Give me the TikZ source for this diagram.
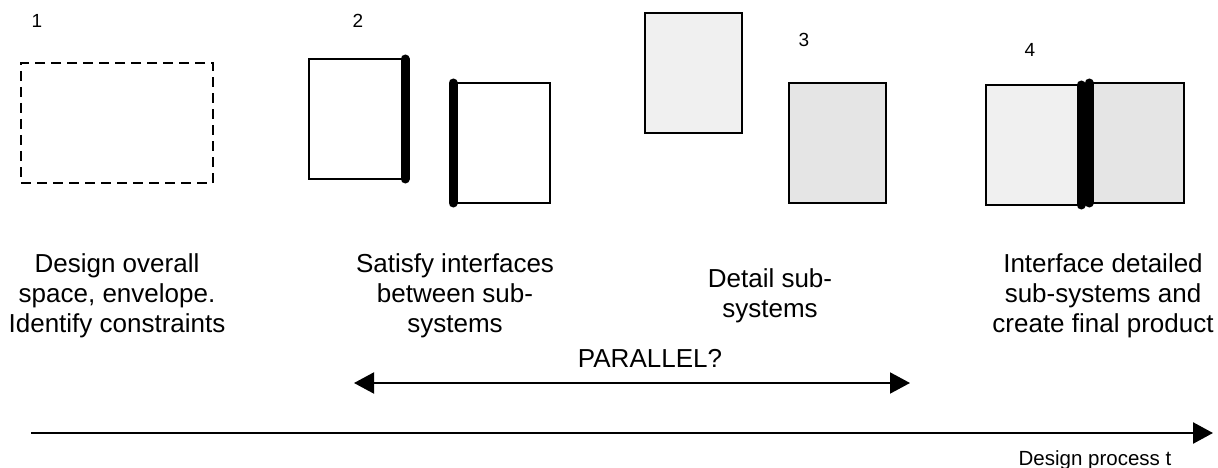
\documentclass[tikz,border=0pt]{standalone}
\usepackage{fontspec}
\setmainfont{Liberation Sans}
\usetikzlibrary{arrows.meta}
\tikzset{
	box/.style={draw, line width=2pt, inner sep=0pt, outer sep=0pt, minimum width=97pt, minimum height=120pt, anchor=north west},
	envelope/.style={box, dash pattern=on 10pt off 6pt, minimum width=192pt},
	palefill/.style={fill=black!6},
	midfill/.style={fill=black!10},
	iface/.style={line width=9pt, line cap=round},
	stagetext/.style={inner sep=0pt, font=\fontsize{26}{30}\selectfont, align=center, anchor=north},
	stagenum/.style={inner sep=0pt, font=\fontsize{19}{22}\selectfont, anchor=base},
	timeline/.style={line width=2pt, -{Triangle[length=20pt,width=21pt]}},
}
\begin{document}
\begin{tikzpicture}[x=1pt, y=-1pt]
		\useasboundingbox (0,0) rectangle (1218,468);
		\node[stagenum] (n1) at (37,28) {1};
		\node[stagenum] (n2) at (358,28) {2};
		\node[stagenum] (n3) at (804,47) {3};
		\node[stagenum] (n4) at (1030,57) {4};
		\node[envelope] (b1) at (21,63) {};
		\node[box, minimum width=96pt] (b2a) at (309,59) {};
		\node[box] (b2b) at (453,83) {};
		\node[box, palefill] (b3a) at (645,13) {};
		\node[box, midfill] (b3b) at (789,83) {};
		\node[box, palefill, minimum width=95pt] (b4a) at (986,85) {};
		\node[box, midfill, minimum width=95pt] (b4b) at (1089,83) {};
		\draw[iface] (b2a.north east) -- (b2a.south east);
		\draw[iface] (b2b.north west) -- (b2b.south west);
		\draw[iface] (b4a.north east) -- (b4a.south east);
		\draw[iface] (b4b.north west) -- (b4b.south west);
		\node[stagetext] (t1) at (117,253) {Design overall\\space, envelope.\\Identify constraints};
		\node[stagetext] (t2) at (455,253) {Satisfy interfaces\\between sub-\\systems};
		\node[stagetext] (t3) at (770,268) {Detail sub-\\systems};
		\node[stagetext] (t4) at (1103,253) {Interface detailed\\sub-systems and\\create final product};
		\node[stagenum, font=\fontsize{26}{30}\selectfont] (par) at (650,367) {PARALLEL?};
		\coordinate (pl) at (354,383);
		\coordinate (pr) at (910,383);
		\draw[timeline, {Triangle[length=20pt,width=21pt]}-{Triangle[length=20pt,width=21pt]}] (pl) -- (pr);
		\coordinate (tl) at (31,433);
		\coordinate (tr) at (1213,433);
		\draw[timeline, line width=2.5pt] (tl) -- (tr);
		\node[stagenum, font=\fontsize{20.5}{24}\selectfont] (proc) at (1095,465) {Design process t};
	\end{tikzpicture}
\end{document}
